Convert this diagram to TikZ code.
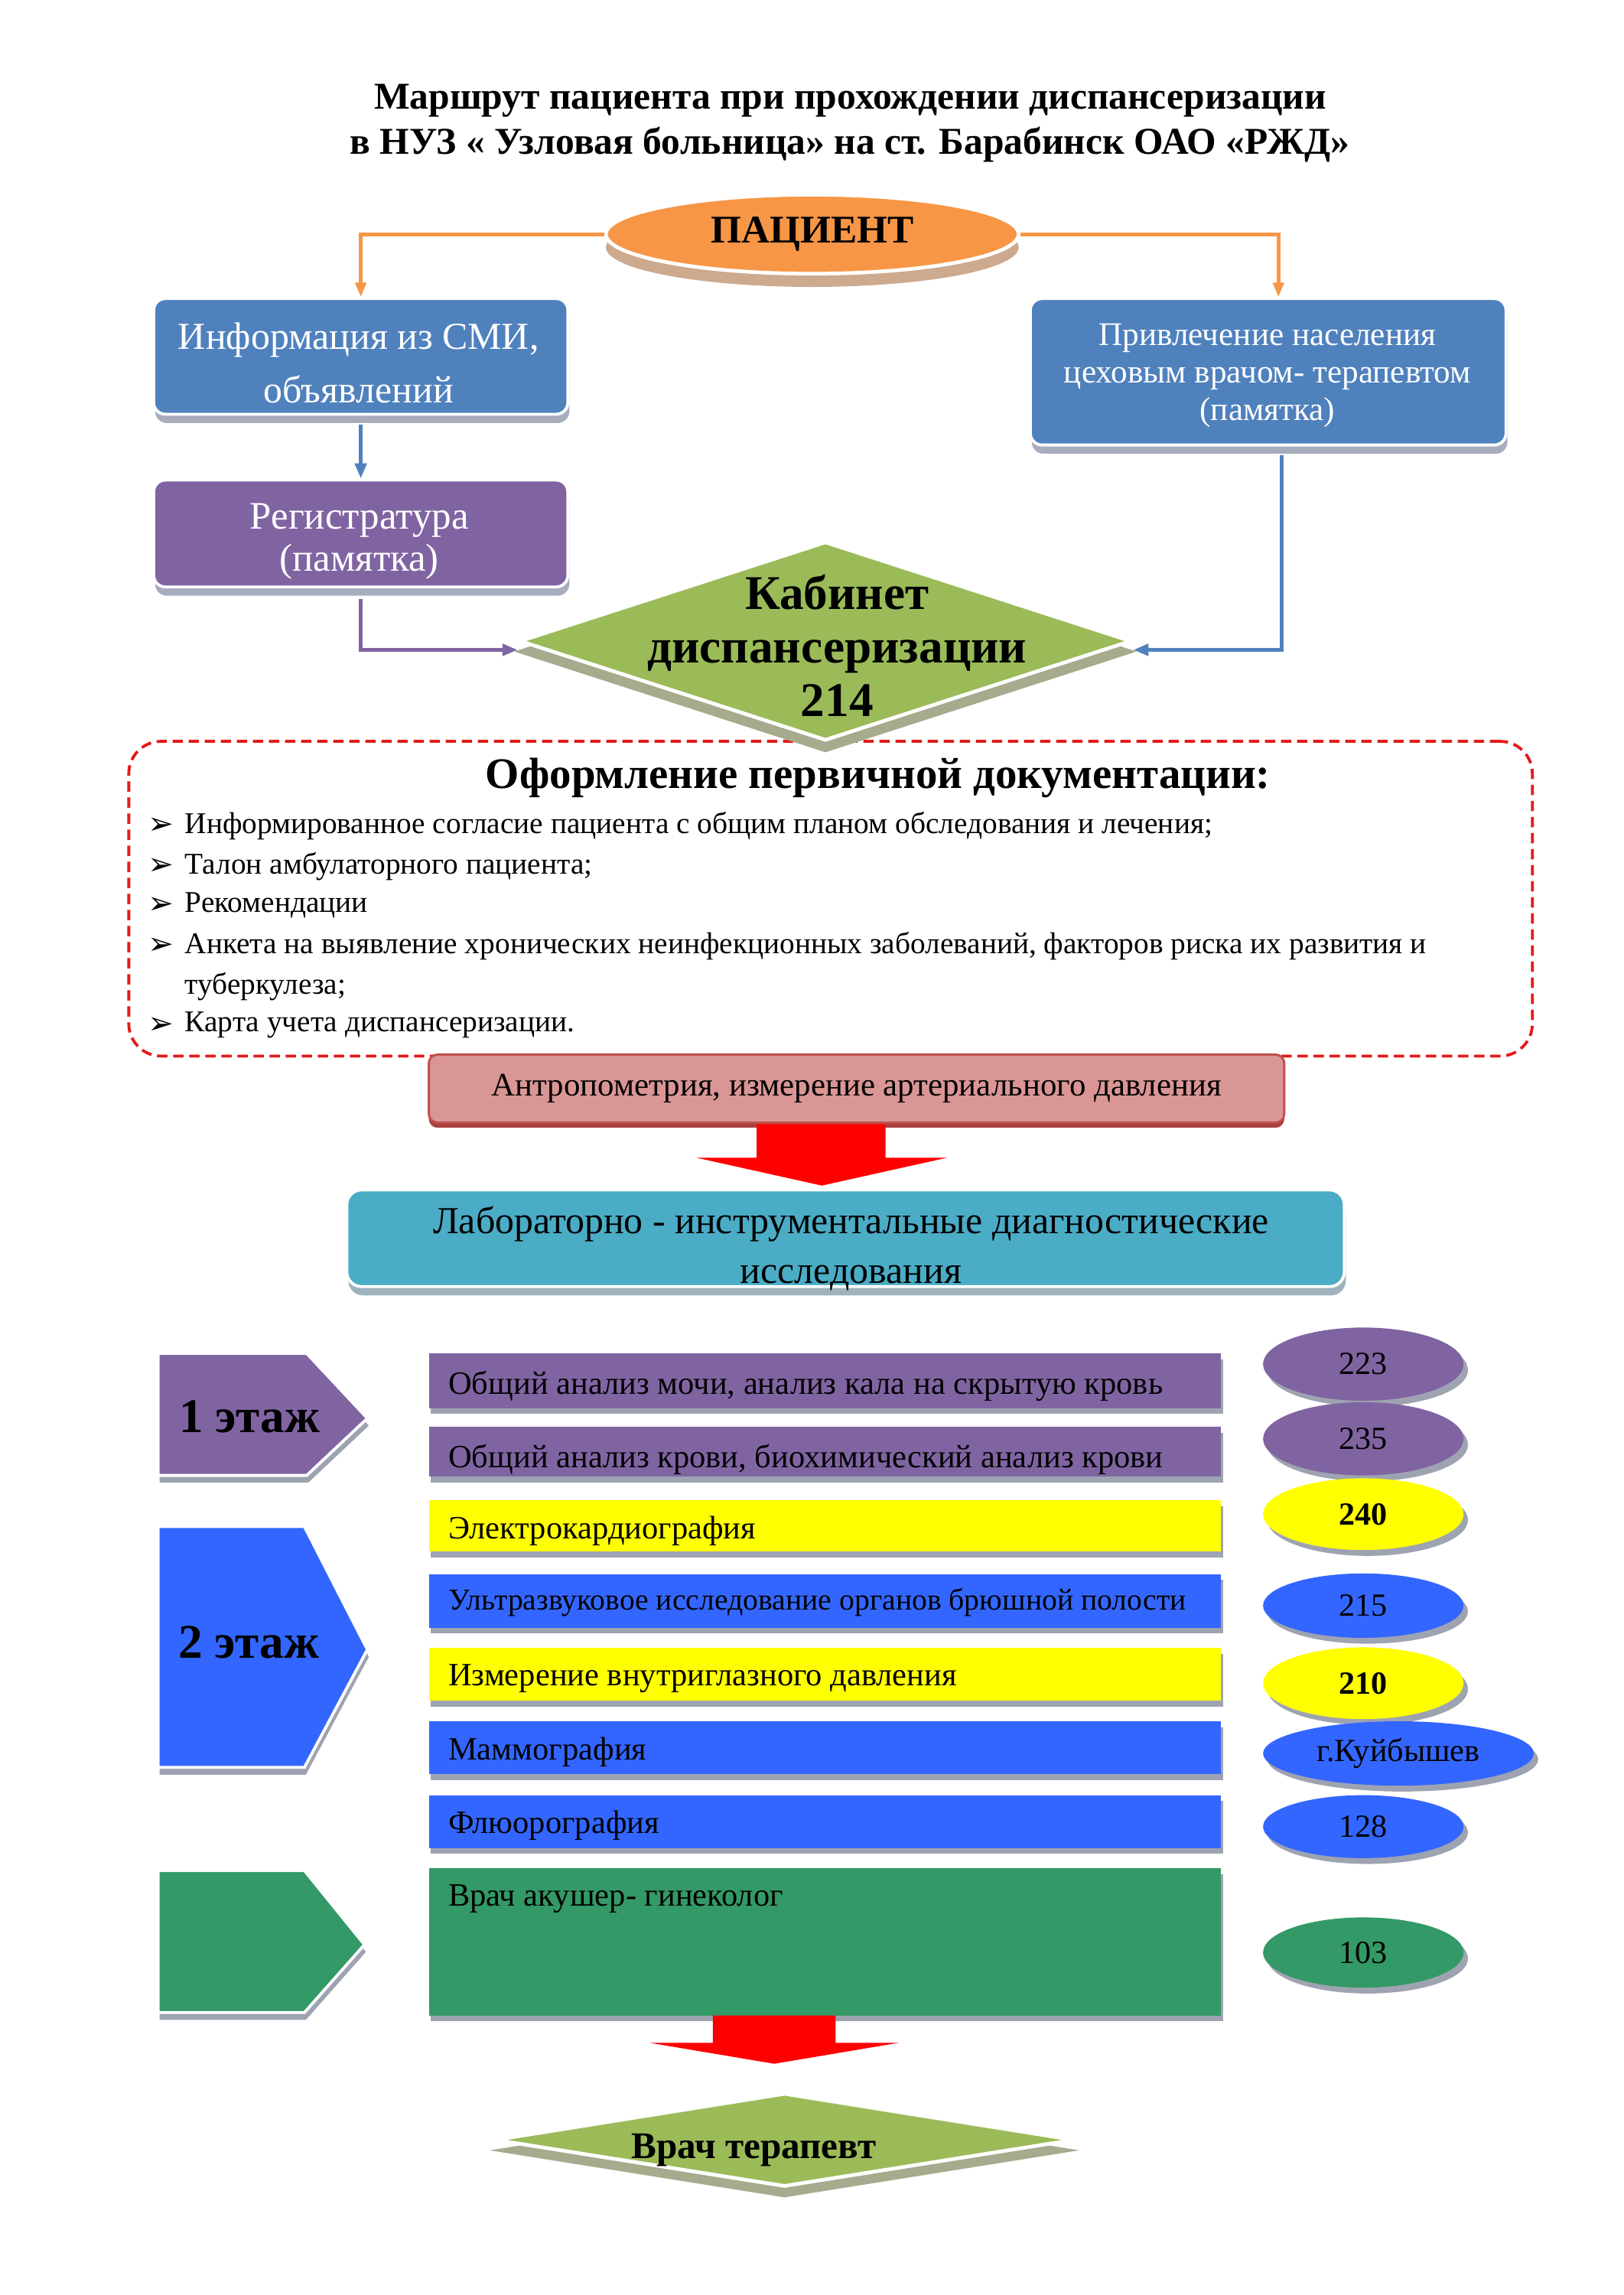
\documentclass[tikz,border=0pt]{standalone}
\usepackage{fontspec}
\setmainfont{Liberation Serif}
\newfontfamily\symfont{DejaVu Sans}
\usetikzlibrary{shapes.geometric,arrows.meta,shadows}
\newdimen\dpx
\dpx=0.019133cm
\definecolor{cblue}{HTML}{4F81BD}
\definecolor{cpurple}{HTML}{8064A2}
\definecolor{corange}{HTML}{F79646}
\definecolor{cgreen}{HTML}{9BBB59}
\definecolor{clab}{HTML}{4BACC6}
\definecolor{cpink}{HTML}{D99694}
\definecolor{cred}{HTML}{C0504D}
\definecolor{bblue}{HTML}{3366FF}
\definecolor{byellow}{HTML}{FFFF00}
\definecolor{bgreen}{HTML}{339966}
\definecolor{shgray}{HTML}{A7ADBD}
\definecolor{pshade}{HTML}{CDA98E}
\definecolor{dshade}{HTML}{A5AB8C}
\definecolor{rshade}{HTML}{A8403E}
\definecolor{bshade}{HTML}{9EA3B1}
\definecolor{lshade}{HTML}{9EB3BD}
\definecolor{dashred}{HTML}{E31B1B}
\definecolor{arrred}{HTML}{FF0000}
\begin{document}
\begin{tikzpicture}[x=0.019133cm,y=-0.019133cm,
  flowbox/.style={rectangle,rounded corners=8*\dpx,fill=cblue,draw=white,line width=2*\dpx,
    text=white,align=center,inner sep=0pt},
  boxshadow/.style={general shadow={fill=#1,shadow yshift=-6*\dpx,shadow xshift=1*\dpx}},
  bar/.style={rectangle,draw=none,inner sep=0pt,minimum width=541*\dpx,
    general shadow={fill=bshade,shadow yshift=-4*\dpx,shadow xshift=1.5*\dpx}},
  room/.style={ellipse,draw=none,inner sep=0pt,minimum width=137*\dpx,
    general shadow={fill=bshade,shadow yshift=-4*\dpx,shadow xshift=3*\dpx},
    font=\fontsize{12}{14}\selectfont},
  bartext/.style={anchor=west,inner sep=0pt,font=\fontsize{12.1}{14}\selectfont},
  itemtext/.style={anchor=west,inner sep=0pt,font=\fontsize{11.2}{13}\selectfont},
  bulletsym/.style={anchor=west,inner sep=0pt,font=\symfont\fontsize{11.5}{13}\selectfont},
  floorshape/.style={draw=white,line width=2*\dpx,
    general shadow={fill=bshade,shadow yshift=-5*\dpx,shadow xshift=1*\dpx}},
  floortext/.style={font=\bfseries\fontsize{18}{20}\selectfont},
  oconn/.style={draw=corange,line width=1.4pt,-{Triangle[length=0.19cm,width=0.14cm]}},
  bconn/.style={draw=cblue,line width=1.4pt,-{Triangle[length=0.2cm,width=0.15cm]}},
  pconn/.style={draw=cpurple,line width=1.4pt,-{Triangle[length=0.2cm,width=0.15cm]}},
  greendia/.style={diamond,fill=cgreen,draw=white,line width=2.5*\dpx,inner sep=0pt,
    general shadow={fill=dshade,shadow yshift=-7*\dpx,shadow scale=1.02}},
  blockarrow/.style={fill=arrred}
]
\useasboundingbox (0,0) rectangle (1109.5,1568);

% title
\node[font=\bfseries\fontsize{14.1}{16}\selectfont] (t1) at (581,69) {Маршрут пациента при прохождении диспансеризации};
\node[font=\bfseries\fontsize{14.1}{16}\selectfont] (t2) at (580.5,99) {в НУЗ « Узловая больница» на ст. Барабинск ОАО «РЖД»};

% patient
\node[ellipse,fill=corange,draw=white,line width=2.5*\dpx,minimum width=282*\dpx,minimum height=54*\dpx,
  inner sep=0pt,general shadow={fill=pshade,shadow yshift=-9*\dpx},
  font=\bfseries\fontsize{14.6}{17}\selectfont] (pat) at (555,160) {ПАЦИЕНТ};

% top boxes
\node[flowbox,boxshadow=shgray,minimum width=283*\dpx,minimum height=79*\dpx] (info) at (246.5,243.5) {};
\node[text=white,align=center,font=\fontsize{14.2}{20}\selectfont] (infot) at (245,248) {Информация из СМИ,\\объявлений};

\node[flowbox,boxshadow=shgray,minimum width=325*\dpx,minimum height=100*\dpx] (right) at (866.5,254) {};
\node[text=white,align=center,font=\fontsize{12.3}{14}\selectfont] (rightt) at (866,256.5) {Привлечение населения\\цеховым врачом- терапевтом\\(памятка)};

\node[flowbox,fill=cpurple,boxshadow=shgray,minimum width=283*\dpx,minimum height=73*\dpx] (reg) at (246.5,364.5) {};
\node[text=white,align=center,font=\fontsize{14.5}{15.5}\selectfont] (regt) at (245.5,370) {Регистратура\\(памятка)};

% dashed documentation box
\node[draw=dashred,line width=2*\dpx,dash pattern=on 1.35mm off 0.75mm,rounded corners=22*\dpx,
  minimum width=959*\dpx,minimum height=215*\dpx,inner sep=0pt] (doc) at (567.5,614) {};

% diamond
\node[greendia,minimum width=418*\dpx,minimum height=136*\dpx] (dia) at (564,438) {};
\node[font=\bfseries\fontsize{18}{20}\selectfont,align=center] (diat) at (572,441) {Кабинет\\диспансеризации\\214};

% connectors
\draw[oconn] (pat.west) -| (info.north);
\draw[oconn] (pat.east) -| ([xshift=7*\dpx]right.north);
\draw[bconn] ([yshift=-6*\dpx]info.south) -- (reg.north);
\draw[pconn] ([yshift=-7*\dpx]reg.south) |- ([yshift=-6*\dpx]dia.west);
\draw[bconn] ([xshift=9*\dpx,yshift=-6*\dpx]right.south) |- ([yshift=-6*\dpx]dia.east);

% documentation text
\node[font=\bfseries\fontsize{16.2}{19}\selectfont] (doct) at (600,531.5) {Оформление первичной документации:};
\node[bulletsym] (bl1) at (101,564.5) {➢};
\node[itemtext] (it1) at (126,564.5) {Информированное согласие пациента с общим планом обследования и лечения;};
\node[bulletsym] (bl2) at (101,592) {➢};
\node[itemtext] (it2) at (126,592) {Талон амбулаторного пациента;};
\node[bulletsym] (bl3) at (101,618.5) {➢};
\node[itemtext] (it3) at (126,618.5) {Рекомендации};
\node[bulletsym] (bl4) at (101,646.5) {➢};
\node[itemtext] (it4) at (126,646.5) {Анкета на выявление хронических неинфекционных заболеваний, факторов риска их развития и};
\node[itemtext] (it4b) at (126,674) {туберкулеза;};
\node[bulletsym] (bl5) at (101,700.5) {➢};
\node[itemtext] (it5) at (126,700.5) {Карта учета диспансеризации.};

% anthropometry
\node[rectangle,rounded corners=6*\dpx,fill=cpink,draw=cred,line width=1.5*\dpx,
  minimum width=584.5*\dpx,minimum height=46.5*\dpx,inner sep=0pt,
  general shadow={fill=rshade,shadow yshift=-3.5*\dpx},
  font=\fontsize{12.2}{14}\selectfont] (antro) at (585.25,743.75) {Антропометрия, измерение артериального давления};

\fill[blockarrow] (517,768) -- (605,768) -- (605,791) -- (647,791) -- (561.5,810) -- (476,791) -- (517,791) -- cycle;

% lab
\node[flowbox,fill=clab,rounded corners=10*\dpx,boxshadow=lshade,minimum width=681.5*\dpx,minimum height=66*\dpx] (lab) at (577.75,846) {};
\node[align=center,font=\fontsize{14.2}{18.5}\selectfont] (labt) at (581.5,853) {Лабораторно - инструментальные диагностические\\исследования};

% floors
\path[floorshape,fill=cpurple] (108,924.7) -- (209.6,924.7) -- (251,969) -- (209.6,1008) -- (108,1008) -- cycle;
\node[floortext] (fl1) at (170.5,968) {1 этаж};
\path[floorshape,fill=bblue] (108,1043) -- (208,1043) -- (251,1127) -- (208,1207.5) -- (108,1207.5) -- cycle;
\node[floortext] (fl2) at (170,1122) {2 этаж};
\path[floorshape,fill=bgreen] (108,1278) -- (208,1278) -- (249,1328.6) -- (208,1375) -- (108,1375) -- cycle;

% bars
\node[bar,fill=cpurple,minimum height=37.3*\dpx] (b1) at (563.5,943.35) {};
\node[bartext] (b1t) at (306,947) {Общий анализ мочи, анализ кала на скрытую кровь};
\node[bar,fill=cpurple,minimum height=34*\dpx] (b2) at (563.5,991.7) {};
\node[bartext] (b2t) at (306,997) {Общий анализ крови, биохимический анализ крови};
\node[bar,fill=byellow,minimum height=35*\dpx] (b3) at (563.5,1042.5) {};
\node[bartext] (b3t) at (306,1046) {Электрокардиография};
\node[bar,fill=bblue,minimum height=36.5*\dpx] (b4) at (563.5,1093.75) {};
\node[bartext,font=\fontsize{11.3}{14}\selectfont] (b4t) at (306,1095) {Ультразвуковое исследование органов брюшной полости};
\node[bar,fill=byellow,minimum height=36.2*\dpx] (b5) at (563.5,1143.9) {};
\node[bartext] (b5t) at (306,1147) {Измерение внутриглазного давления};
\node[bar,fill=bblue,minimum height=36*\dpx] (b6) at (563.5,1194) {};
\node[bartext] (b6t) at (306,1197) {Маммография};
\node[bar,fill=bblue,minimum height=36*\dpx] (b7) at (563.5,1244.6) {};
\node[bartext] (b7t) at (306,1247) {Флюорография};
\node[bar,fill=bgreen,minimum height=100.7*\dpx] (b8) at (563.5,1326.65) {};
\node[bartext] (b8t) at (306,1297.5) {Врач акушер- гинеколог};

% rooms
\node[room,fill=cpurple,minimum height=50*\dpx] (r1) at (931.5,932) {223};
\node[room,fill=cpurple,minimum height=50*\dpx] (r2) at (931.5,983) {235};
\node[room,fill=byellow,minimum height=49*\dpx,font=\bfseries\fontsize{12}{14}\selectfont] (r3) at (931.5,1034.5) {240};
\node[room,fill=bblue,minimum height=44*\dpx] (r4) at (931.5,1097) {215};
\node[room,fill=byellow,minimum height=49*\dpx,font=\bfseries\fontsize{12}{14}\selectfont] (r5) at (931.5,1150) {210};
\node[room,fill=bblue,minimum width=185*\dpx,minimum height=44*\dpx] (r6) at (955.5,1198) {г.Куйбышев};
\node[room,fill=bblue,minimum height=43*\dpx] (r7) at (931.5,1248) {128};
\node[room,fill=bgreen,minimum height=48*\dpx] (r8) at (931.5,1334) {103};

% bottom arrow and therapist
\fill[blockarrow] (487,1377) -- (571,1377) -- (571,1395.7) -- (614,1395.7) -- (529,1410) -- (444,1395.7) -- (487,1395.7) -- cycle;
\node[greendia,minimum width=396*\dpx,minimum height=64*\dpx] (ther) at (536,1462) {};
\node[font=\bfseries\fontsize{14}{16}\selectfont] (thert) at (515,1469) {Врач терапевт};
\end{tikzpicture}
\end{document}
